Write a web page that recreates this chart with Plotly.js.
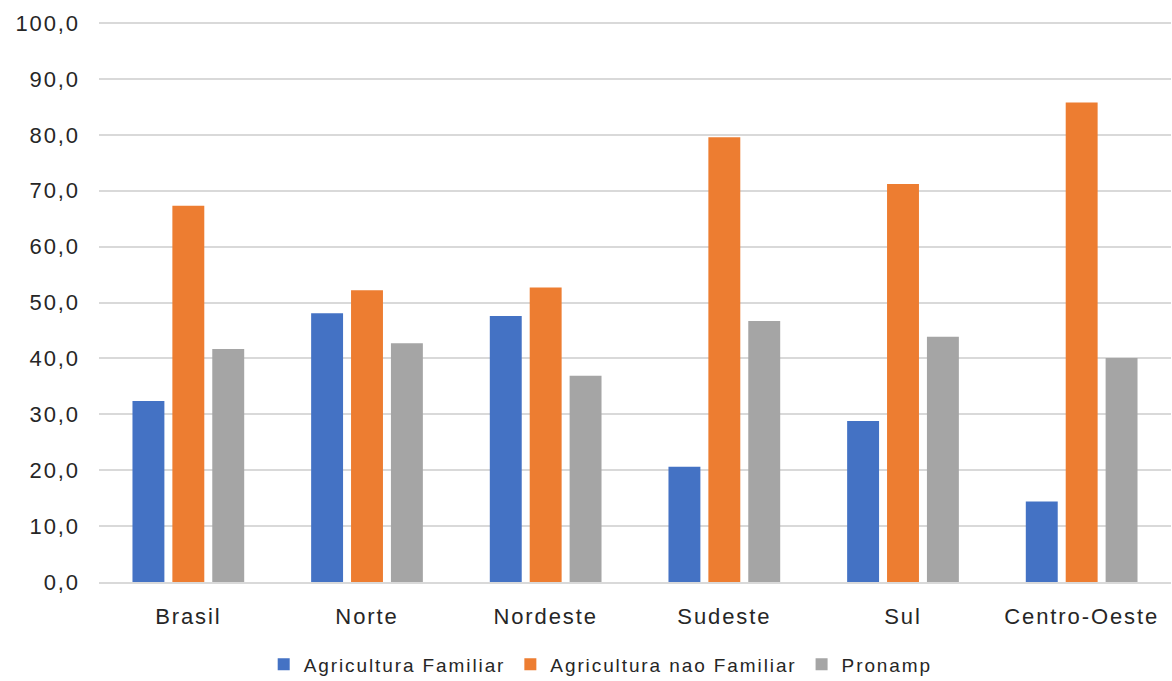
<!DOCTYPE html>
<html>
<head>
<meta charset="utf-8">
<script src="https://cdn.plot.ly/plotly-3.0.1.min.js"></script>
<style>
html,body{margin:0;padding:0;background:#fff;}
#chart{width:1172px;height:681px;}
text{letter-spacing:1.9px;}
</style>
</head>
<body>
<div id="chart"></div>
<script>
const categories = ["Brasil", "Norte", "Nordeste", "Sudeste", "Sul", "Centro-Oeste"];
const familiar = [32.4, 48.1, 47.6, 20.6, 28.8, 14.4];
const naoFamiliar = [67.3, 52.2, 52.7, 79.6, 71.2, 85.8];
const pronamp = [41.7, 42.7, 36.9, 46.7, 43.9, 40.1];
const seriesNames = ["Agricultura Familiar", "Agricultura nao Familiar", "Pronamp"];
const colors = ["#4472C4", "#ED7D31", "#A5A5A5"];
const yTicks = [0, 10, 20, 30, 40, 50, 60, 70, 80, 90, 100];

const values = [familiar, naoFamiliar, pronamp];
const traces = values.map((v, i) => ({
  type: "bar",
  name: seriesNames[i],
  x: categories,
  y: v,
  marker: {color: colors[i], line: {width: 0}},
  hoverinfo: "x+y+name"
}));

const layout = {
  width: 1172,
  height: 681,
  margin: {l: 99, r: 1, t: 22, b: 98.5, autoexpand: false},
  paper_bgcolor: "#ffffff",
  plot_bgcolor: "#ffffff",
  separators: ", ",
  font: {family: "Liberation Sans, Arial, sans-serif", size: 22, color: "#262626"},
  barmode: "group",
  bargap: 0.33,
  bargroupgap: 0.2,
  showlegend: true,
  legend: {
    orientation: "h",
    x: 0.468, xanchor: "center",
    y: -0.147, yanchor: "middle",
    font: {size: 19, color: "#262626"},
    itemwidth: 30,
    traceorder: "normal"
  },
  xaxis: {
    type: "category",
    showgrid: false,
    showline: true,
    linecolor: "#d9d9d9",
    linewidth: 2,
    ticks: "",
    ticklabelstandoff: 14,
    tickfont: {size: 22, color: "#262626"}
  },
  yaxis: {
    range: [0, 100.2],
    tickvals: yTicks,
    tickformat: ".1f",
    showgrid: true,
    gridcolor: "#d9d9d9",
    gridwidth: 2,
    zeroline: false,
    showline: false,
    ticks: "",
    ticklabelstandoff: 18,
    tickfont: {size: 22, color: "#262626"}
  }
};

Plotly.newPlot("chart", traces, layout, {displayModeBar: false, staticPlot: true});
</script>
</body>
</html>
